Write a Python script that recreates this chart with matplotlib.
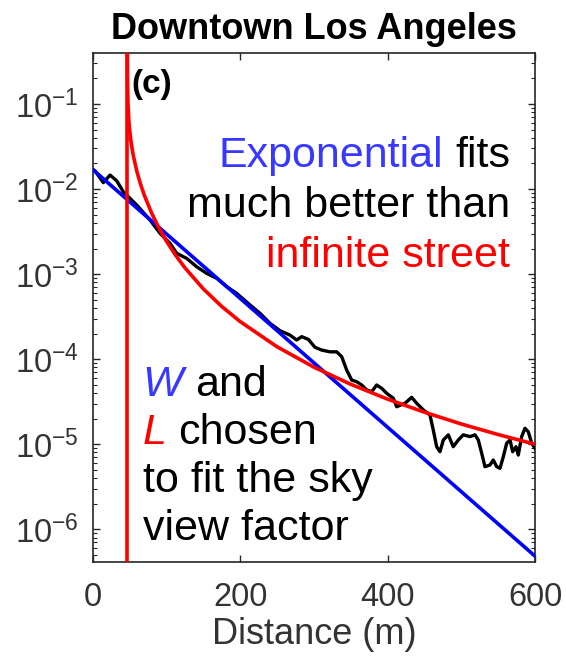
import math
import matplotlib
matplotlib.use("Agg")
import matplotlib.pyplot as plt
from matplotlib.ticker import FixedLocator, FuncFormatter, LogLocator, NullFormatter

plt.rcParams['font.family'] = ['Liberation Sans', 'DejaVu Sans']
plt.rcParams['mathtext.fontset'] = 'custom'
plt.rcParams['mathtext.rm'] = 'Liberation Sans'
plt.rcParams['mathtext.it'] = 'Liberation Sans:italic'
plt.rcParams['mathtext.bf'] = 'Liberation Sans:bold'

# Measured sky-view correlation along the street (Downtown Los Angeles)
distance = [0, 3.1, 14.4, 23.5, 32.6, 41.5, 59.7, 77.7, 91.3, 104.9, 113.9, 127.5,
            141.1, 154.6, 168.2, 181.8, 195.3, 213.4, 227.0, 240.5, 254.1, 267.6,
            276.7, 283.5, 292.5, 301.5, 310.6, 321.9, 331.0, 337.8, 344.5, 351.3,
            358.1, 364.9, 371.7, 378.5, 385.2, 392.0, 398.8, 407.8, 412.4, 423.6,
            432.7, 439.5, 448.5, 457.5, 462.0, 466.6, 471.1, 475.6, 482.4, 489.1,
            495.9, 502.7, 511.8, 518.6, 523.1, 527.7, 532.1, 538.9, 543.4, 548.0,
            552.5, 557.0, 561.6, 566.1, 569.7, 574.2, 577.3, 581.9, 586.4, 590.9,
            595.5, 600.0]
observed = [1.70e-2, 1.64e-2, 1.19e-2, 1.46e-2, 1.25e-2, 9.3e-3, 6.5e-3, 4.33e-3,
            3.02e-3, 2.30e-3, 1.76e-3, 1.53e-3, 1.22e-3, 1.02e-3, 8.93e-4, 7.11e-4,
            5.94e-4, 4.34e-4, 3.46e-4, 2.64e-4, 2.16e-4, 1.92e-4, 1.68e-4, 1.84e-4,
            1.71e-4, 1.38e-4, 1.28e-4, 1.22e-4, 1.22e-4, 1.07e-4, 7.46e-5, 5.69e-5,
            5.43e-5, 4.97e-5, 4.35e-5, 4.15e-5, 4.97e-5, 4.55e-5, 3.97e-5, 3.47e-5,
            2.76e-5, 3.03e-5, 3.56e-5, 3.03e-5, 2.53e-5, 2.21e-5, 1.47e-5, 9.35e-6,
            8.17e-6, 1.12e-5, 1.29e-5, 9.35e-6, 1.12e-5, 1.29e-5, 1.23e-5, 1.29e-5,
            1.12e-5, 7.82e-6, 5.45e-6, 5.70e-6, 6.53e-6, 5.45e-6, 5.21e-6, 7.13e-6,
            1.03e-5, 1.12e-5, 8.17e-6, 9.35e-6, 7.46e-6, 1.23e-5, 1.54e-5, 1.40e-5,
            1.03e-5, 8.95e-6]

# Exponential fit (straight on the log axis)
exp_distance = [0, 600]
exp_fit = [1.70e-2, 4.84e-7]

# Infinite street model
street_width = 47
street_distance = [47.03, 47.1, 47.3, 47.6, 48, 49, 50, 52, 55, 60, 65, 70, 80, 90,
                   100, 112, 125, 150, 175, 200, 250, 300, 350, 400, 450, 500, 550, 600]
street_model = [0.58, 0.316, 0.181, 0.126, 0.096, 0.0647, 0.0505, 0.0358, 0.0249,
                0.0160, 0.01135, 0.00847, 0.00520, 0.00346, 0.00244, 0.00169, 0.00119,
                6.71e-4, 4.17e-4, 2.77e-4, 1.40e-4, 8.07e-5, 5.07e-5, 3.39e-5, 2.38e-5,
                1.73e-5, 1.30e-5, 1.00e-5]

x_ticks = [0, 200, 400, 600]
y_ticks = [1e-6, 1e-5, 1e-4, 1e-3, 1e-2, 1e-1]

W_PX, H_PX = 566, 661
fig = plt.figure(figsize=(W_PX / 100, H_PX / 100), dpi=100)
ax_left, ax_right, ax_top, ax_bottom = 92.7, 535.0, 53.3, 562.3
ax = fig.add_axes([ax_left / W_PX, 1 - ax_bottom / H_PX,
                   (ax_right - ax_left) / W_PX, (ax_bottom - ax_top) / H_PX])

ax.plot(distance, observed, color='black', lw=2.4, zorder=3)
ax.plot(exp_distance, exp_fit, color='#0000ff', lw=2.6, zorder=4)
ax.plot(street_distance, street_model, color='#ff0000', lw=2.6, zorder=5)
ax.axvline(street_width, color='#ff0000', lw=2.6, zorder=5)

ax.set_yscale('log')
ax.set_xlim(0, 600)
ax.set_ylim(10 ** -6.388, 10 ** -0.404)

axis_gray = '#262626'
ax.xaxis.set_major_locator(FixedLocator(x_ticks))
ax.yaxis.set_major_locator(FixedLocator(y_ticks))
ax.yaxis.set_minor_locator(LogLocator(base=10, subs=range(2, 10), numticks=20))
ax.yaxis.set_minor_formatter(NullFormatter())
ax.yaxis.set_major_formatter(FuncFormatter(
    lambda v, _: r'$\mathregular{10^{%d}}$' % round(math.log10(v))))
ax.tick_params(which='both', direction='in', top=True, right=True,
               color=axis_gray, labelcolor='#333333')
ax.tick_params(which='major', length=5, width=1.0, labelsize=23.5)
ax.tick_params(which='minor', length=3, width=0.8)
ax.tick_params(axis='y', pad=10)
ax.tick_params(axis='x', pad=14)
for sp in ax.spines.values():
    sp.set_color(axis_gray)
    sp.set_linewidth(1.2)

ax.set_xlabel('Distance (m)', fontsize=26, color='#333333', labelpad=3)

fig.text((ax_left + ax_right) / 2 / W_PX, 1 - 39 / H_PX, 'Downtown Los Angeles',
         ha='center', va='baseline', fontsize=26, fontweight='bold')
fig.text(131.7 / W_PX, 1 - 93 / H_PX, '(c)', ha='left', va='baseline',
         fontsize=24, fontweight='bold')

renderer = fig.canvas.get_renderer()
TEXT_SIZE = 31


def width_px(s, **kw):
    t = fig.text(0, 0, s, fontsize=TEXT_SIZE, **kw)
    w = t.get_window_extent(renderer).width
    t.remove()
    return w


def put(x_px, y_px, s, ha='left', **kw):
    fig.text(x_px / W_PX, 1 - y_px / H_PX, s, ha=ha, va='baseline',
             fontsize=TEXT_SIZE, **kw)


space = width_px('a a') - width_px('aa')

# right-hand block
right_x = 510
full = width_px('Exponential fits')
put(right_x - full, 166.7, 'Exponential', color='#3838ff')
put(right_x, 166.7, 'fits', ha='right', color='black')
put(right_x, 216.7, 'much better than', ha='right', color='black')
put(right_x, 266.7, 'infinite street', ha='right', color='#ff0000')

# left-hand block
left_x = 142.7
wW = width_px('W', style='italic')
put(left_x, 396, 'W', style='italic', color='#3838ff')
put(left_x + wW + space, 396, 'and', color='black')
wL = width_px('L', style='italic')
put(left_x, 444, 'L', style='italic', color='#ff0000')
put(left_x + wL + space, 444, 'chosen', color='black')
put(left_x, 492, 'to fit the sky', color='black')
put(left_x, 540.5, 'view factor', color='black')

fig.savefig('out.png', dpi=100)
